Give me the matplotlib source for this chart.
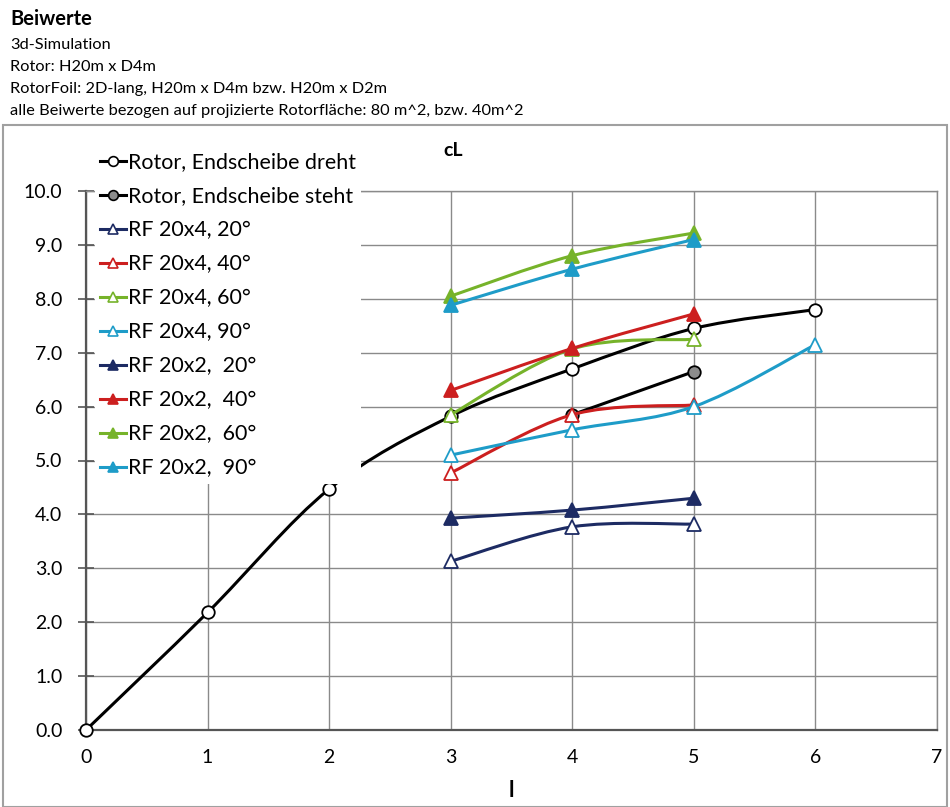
import numpy as np
import matplotlib
matplotlib.use("Agg")
import matplotlib.pyplot as plt
from matplotlib.path import Path
from matplotlib.patches import PathPatch, Rectangle
from matplotlib.lines import Line2D
from matplotlib.transforms import Bbox

plt.rcParams["font.family"] = ["Lato", "DejaVu Sans"]

# data
x_dreht = [0, 1, 2, 3, 4, 5, 6]
y_dreht = [0.0, 2.18, 4.47, 5.82, 6.70, 7.45, 7.80]
x_steht = [4, 5]
y_steht = [5.85, 6.65]
x_rf = [3, 4, 5]
x_rf4_90 = [3, 4, 5, 6]
rf4_20 = [3.13, 3.77, 3.82]
rf4_40 = [4.77, 5.85, 6.03]
rf4_60 = [5.85, 7.07, 7.25]
rf4_90 = [5.10, 5.57, 6.00, 7.15]
rf2_20 = [3.93, 4.08, 4.30]
rf2_40 = [6.30, 7.08, 7.72]
rf2_60 = [8.05, 8.80, 9.22]
rf2_90 = [7.88, 8.55, 9.10]

NAVY = "#1d2b63"
RED = "#cc1f1f"
GREEN = "#76b32a"
CYAN = "#1e9cc8"

series = [
    ("Rotor, Endscheibe dreht", x_dreht, y_dreht, "black", "o", "white"),
    ("Rotor, Endscheibe steht", x_steht, y_steht, "black", "o", "#8c8c8c"),
    ("RF 20x4, 20°", x_rf, rf4_20, NAVY, "^", "white"),
    ("RF 20x4, 40°", x_rf, rf4_40, RED, "^", "white"),
    ("RF 20x4, 60°", x_rf, rf4_60, GREEN, "^", "white"),
    ("RF 20x4, 90°", x_rf4_90, rf4_90, CYAN, "^", "white"),
    ("RF 20x2,  20°", x_rf, rf2_20, NAVY, "^", NAVY),
    ("RF 20x2,  40°", x_rf, rf2_40, RED, "^", RED),
    ("RF 20x2,  60°", x_rf, rf2_60, GREEN, "^", GREEN),
    ("RF 20x2,  90°", x_rf, rf2_90, CYAN, "^", CYAN),
]


def smooth_path(xs, ys):
    # Excel style smoothed line: cubic bezier with catmull-rom control points
    p = np.column_stack([xs, ys]).astype(float)
    n = len(p)
    verts = [p[0]]
    codes = [Path.MOVETO]
    for i in range(n - 1):
        p0 = p[i - 1] if i > 0 else p[i]
        p3 = p[i + 2] if i + 2 < n else p[i + 1]
        c1 = p[i] + (p[i + 1] - p0) / 6.0
        c2 = p[i + 1] - (p3 - p[i]) / 6.0
        verts += [c1, c2, p[i + 1]]
        codes += [Path.CURVE4] * 3
    return Path(verts, codes)


fig = plt.figure(figsize=(9.5, 8.07), dpi=100)
W, H = 950, 807

# header text
fig.text(10 / W, 1 - 19 / H, "Beiwerte", fontsize=14.5, fontweight="bold", va="center")
header = ["3d-Simulation", "Rotor: H20m x D4m",
          "RotorFoil: 2D-lang, H20m x D4m bzw. H20m x D2m",
          "alle Beiwerte bezogen auf projizierte Rotorfläche: 80 m^2, bzw. 40m^2"]
for k, line in enumerate(header):
    t = fig.text(10 / W, 1 - (45 + 22 * k) / H, line, fontsize=11.8, va="center")
    if k == 3:
        t.set_clip_box(Bbox.from_extents(0, 0, 524, H))

# chart frame
fig.patches.append(Rectangle((3 / W, 0), 944 / W, 1 - 125 / H, transform=fig.transFigure,
                             fill=False, edgecolor="#a0a0a0", lw=1.5))

ax = fig.add_axes([86 / W, 1 - 730 / H, (937 - 86) / W, (730 - 191) / H])
ax.set_xlim(0, 7)
ax.set_ylim(0, 10)
ax.set_xticks(range(8))
ax.set_yticks(np.arange(0, 10.5, 1.0))
ax.set_yticklabels([f"{v:.1f}" for v in np.arange(0, 10.5, 1.0)])
ax.grid(True, color="#8a8a8a", lw=1.0)
ax.set_axisbelow(True)
for s in ["top", "right"]:
    ax.spines[s].set_color("#8a8a8a")
    ax.spines[s].set_linewidth(1.0)
for s in ["left", "bottom"]:
    ax.spines[s].set_color("#555555")
    ax.spines[s].set_linewidth(1.6)
ax.tick_params(axis="y", direction="inout", length=12, width=1.2, color="#555555",
               labelsize=14, pad=11)
ax.tick_params(axis="x", direction="inout", length=0, labelsize=14, pad=14)
fig.text(453 / W, 1 - 150 / H, "cL", fontsize=14, fontweight="bold", ha="center", va="center")
ax.set_xlabel("l", fontsize=16, fontweight="bold", labelpad=10)

handles = []
for z, (label, xs, ys, col, mk, fc) in enumerate(series):
    ax.add_patch(PathPatch(smooth_path(xs, ys), fill=False, edgecolor=col, lw=2.2,
                           zorder=3 + z, clip_on=False))
    ax.plot(xs, ys, ls="none", marker=mk, ms=9 if mk == "o" else 9.5, mfc=fc,
            mec=col, mew=1.3, zorder=3.5 + z, clip_on=False)
    handles.append(Line2D([], [], color=col, lw=2.2, marker=mk, ms=7, mfc=fc,
                          mec=col, mew=1.2))

leg = ax.legend(handles, [s[0] for s in series], loc="upper left",
                bbox_to_anchor=(0.010, 1.082), fontsize=15.4, frameon=True,
                facecolor="white", edgecolor="none", framealpha=1,
                handlelength=1.2, handletextpad=0.12, labelspacing=0.655,
                borderpad=0.25, borderaxespad=0)
leg.set_zorder(20)

fig.savefig("out.png", dpi=100)
